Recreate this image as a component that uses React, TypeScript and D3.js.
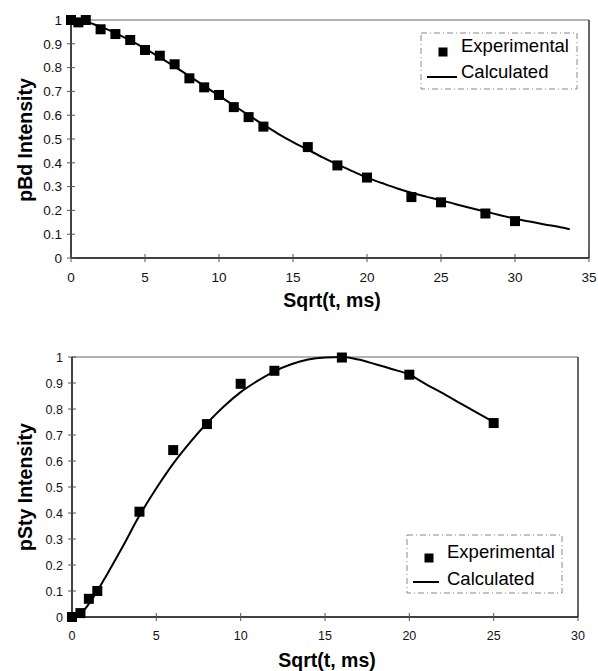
import React from "react";
import * as d3 from "d3";

const topExpX = [0, 0.5, 1, 2, 3, 4, 5, 6, 7, 8, 9, 10, 11, 12, 13, 16, 18, 20, 23, 25, 28, 30];
const topExpY = [1.0, 0.99, 1.0, 0.961, 0.941, 0.916, 0.874, 0.85, 0.814, 0.755, 0.717, 0.685, 0.634, 0.592, 0.552, 0.466, 0.389, 0.338, 0.256, 0.234, 0.187, 0.155];
const topCalcX = [0, 1, 2, 3, 4, 5, 6, 7, 8, 9, 10, 11, 12, 13, 14, 15, 16, 17, 18, 19, 20, 21, 22, 23, 24, 25, 26, 27, 28, 29, 30, 31, 32, 33, 33.7];
const topCalcY = [1.0, 0.993, 0.972, 0.945, 0.914, 0.88, 0.843, 0.804, 0.764, 0.723, 0.682, 0.641, 0.6, 0.56, 0.522, 0.487, 0.455, 0.423, 0.393, 0.365, 0.338, 0.315, 0.293, 0.274, 0.258, 0.243, 0.226, 0.21, 0.195, 0.18, 0.165, 0.153, 0.141, 0.13, 0.121];

const botExpX = [0, 0.5, 1, 1.5, 4, 6, 8, 10, 12, 16, 20, 25];
const botExpY = [0, 0.015, 0.07, 0.1, 0.405, 0.642, 0.742, 0.897, 0.947, 0.998, 0.932, 0.746];
const botCalcX = [0, 0.5, 1, 1.5, 2, 3, 4, 5, 6, 7, 8, 9, 10, 11, 12, 13, 14, 15, 16, 17, 18, 19, 20, 21, 22, 23, 24, 25];
const botCalcY = [0, 0.012, 0.05, 0.1, 0.155, 0.27, 0.39, 0.495, 0.59, 0.672, 0.745, 0.81, 0.865, 0.908, 0.945, 0.972, 0.99, 0.998, 1.0, 0.99, 0.972, 0.953, 0.932, 0.895, 0.86, 0.823, 0.786, 0.75];

const yTicks = [0, 0.1, 0.2, 0.3, 0.4, 0.5, 0.6, 0.7, 0.8, 0.9, 1];
const yTickLabels = ["0", "0.1", "0.2", "0.3", "0.4", "0.5", "0.6", "0.7", "0.8", "0.9", "1"];
const topXTicks = [0, 5, 10, 15, 20, 25, 30, 35];
const botXTicks = [0, 5, 10, 15, 20, 25, 30];

const FONT = "'Liberation Sans', Arial, sans-serif";

type PanelProps = {
  left: number; right: number; top: number; bottom: number;
  xMax: number; xTicks: number[];
  expX: number[]; expY: number[]; calcX: number[]; calcY: number[];
  yLabel: string; yLabelY: number;
  xTitleX: number; xTitleY: number;
  tickFont: number; yTickRight: number; xTickBase: number;
  legend: { x0: number; y0: number; x1: number; y1: number; sqX: number; sqY: number; textX: number; expBase: number; lineX0: number; lineX1: number; lineY: number; calcBase: number };
};

function Panel(p: PanelProps) {
  const x = d3.scaleLinear().domain([0, p.xMax]).range([p.left, p.right]);
  const y = d3.scaleLinear().domain([0, 1]).range([p.bottom, p.top]);
  const calc = p.calcX.map((v, i) => [v, p.calcY[i]] as [number, number]);
  const line = d3.line<[number, number]>().x(d => x(d[0])).y(d => y(d[1])).curve(d3.curveMonotoneX);
  const sq = 10;
  const L = p.legend;
  return (
    <g>
      <line x1={p.left} x2={p.right} y1={p.top} y2={p.top} stroke="#666" strokeWidth={1.2} />
      <line x1={p.right} x2={p.right} y1={p.top} y2={p.bottom} stroke="#333" strokeWidth={1.5} />
      <line x1={p.left} x2={p.left} y1={p.top} y2={p.bottom} stroke="#000" strokeWidth={1.5} />
      <line x1={p.left} x2={p.right} y1={p.bottom} y2={p.bottom} stroke="#000" strokeWidth={1.5} />
      {yTicks.map((t, i) => (
        <g key={"y" + i}>
          <line x1={p.left - 4} x2={p.left + 4} y1={y(t)} y2={y(t)} stroke="#555" strokeWidth={1} />
          <text x={p.yTickRight} y={y(t)} dy="0.36em" textAnchor="end" fontSize={p.tickFont} fontFamily={FONT} fill="#111">{yTickLabels[i]}</text>
        </g>
      ))}
      {p.xTicks.map((t, i) => (
        <g key={"x" + i}>
          <line x1={x(t)} x2={x(t)} y1={p.bottom - 4} y2={p.bottom + 4} stroke="#555" strokeWidth={1} />
          <text x={x(t)} y={p.xTickBase} textAnchor="middle" fontSize={p.tickFont} fontFamily={FONT} fill="#111">{t}</text>
        </g>
      ))}
      <path d={line(calc) || ""} fill="none" stroke="#000" strokeWidth={2} />
      {p.expX.map((v, i) => (
        <rect key={"e" + i} x={x(v) - sq / 2} y={y(p.expY[i]) - sq / 2} width={sq} height={sq} fill="#000" />
      ))}
      <text transform={`translate(32,${p.yLabelY}) rotate(-90)`} textAnchor="middle" fontSize={19.5} fontWeight="bold" fontFamily={FONT} fill="#000">{p.yLabel}</text>
      <text x={p.xTitleX} y={p.xTitleY} textAnchor="middle" fontSize={19.5} fontWeight="bold" fontFamily={FONT} fill="#000">Sqrt(t, ms)</text>
      <rect x={L.x0} y={L.y0} width={L.x1 - L.x0} height={L.y1 - L.y0} fill="none" stroke="#888" strokeWidth={1} strokeDasharray="6,3,1,3" />
      <rect x={L.sqX - 4.5} y={L.sqY - 4.5} width={9} height={9} fill="#000" />
      <text x={L.textX} y={L.expBase} fontSize={18.5} fontFamily={FONT} fill="#000">Experimental</text>
      <line x1={L.lineX0} x2={L.lineX1} y1={L.lineY} y2={L.lineY} stroke="#000" strokeWidth={2} />
      <text x={L.textX} y={L.calcBase} fontSize={18.5} fontFamily={FONT} fill="#000">Calculated</text>
    </g>
  );
}

export default function App() {
  return (
    <div style={{ position: "absolute", left: 0, top: 0 }}>
      <svg width={598} height={671} style={{ display: "block", background: "#fff" }}>
        <Panel
          left={71} right={589} top={20} bottom={258} xMax={35} xTicks={topXTicks}
          expX={topExpX} expY={topExpY} calcX={topCalcX} calcY={topCalcY}
          yLabel="pBd Intensity" yLabelY={140}
          xTitleX={332} xTitleY={307}
          tickFont={13.5} yTickRight={62} xTickBase={282}
          legend={{ x0: 421, y0: 33, x1: 577, y1: 89, sqX: 443, sqY: 52, textX: 461, expBase: 52, lineX0: 427, lineX1: 457, lineY: 77, calcBase: 78 }}
        />
        <Panel
          left={72} right={578} top={357} bottom={617} xMax={30} xTicks={botXTicks}
          expX={botExpX} expY={botExpY} calcX={botCalcX} calcY={botCalcY}
          yLabel="pSty Intensity" yLabelY={487}
          xTitleX={327} xTitleY={667}
          tickFont={12.5} yTickRight={63} xTickBase={640}
          legend={{ x0: 407, y0: 535, x1: 562, y1: 593, sqX: 429, sqY: 558, textX: 447, expBase: 558, lineX0: 413, lineX1: 439, lineY: 582, calcBase: 585 }}
        />
      </svg>
    </div>
  );
}
